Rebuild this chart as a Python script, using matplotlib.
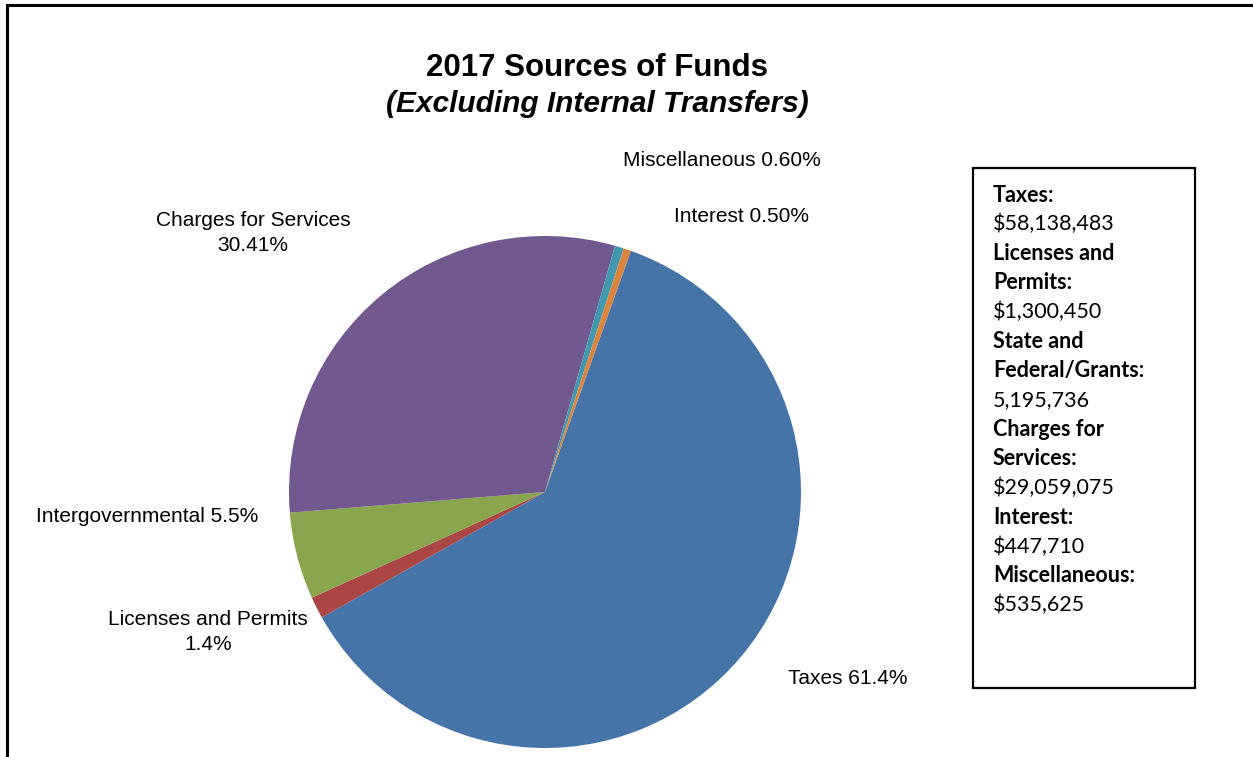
import matplotlib.pyplot as plt
from matplotlib.patches import Rectangle
from matplotlib.lines import Line2D

W, H = 1253, 757

# data (dollars), pie order clockwise starting from Taxes
categories = ["Taxes", "Licenses and Permits", "Intergovernmental",
              "Charges for Services", "Miscellaneous", "Interest"]
amounts = [58138483, 1300450, 5195736, 29059075, 535625, 447710]
slice_labels = ["Taxes 61.4%", "Licenses and Permits\n1.4%", "Intergovernmental 5.5%",
                "Charges for Services\n30.41%", "Miscellaneous 0.60%", "Interest 0.50%"]
colors = ["#4674a9", "#aa4643", "#89a54e", "#71588f", "#4198af", "#db843d"]

box_lines = [("Taxes:", True), ("$58,138,483", False),
             ("Licenses and", True), ("Permits:", True), ("$1,300,450", False),
             ("State and", True), ("Federal/Grants:", True), ("5,195,736", False),
             ("Charges for", True), ("Services:", True), ("$29,059,075", False),
             ("Interest:", True), ("$447,710", False),
             ("Miscellaneous:", True), ("$535,625", False)]

fig = plt.figure(figsize=(W / 100, H / 100), dpi=100)

def fx(px):
    return px / W

def fy(py):
    return 1 - py / H

# outer frame (left and top edges visible)
fig.add_artist(Line2D([fx(7), fx(7)], [fy(5), 0], color="black", lw=2.2))
fig.add_artist(Line2D([fx(7), 1], [fy(5), fy(5)], color="black", lw=2.2))

# pie
cx, cy, r = 545, 492, 256
ax = fig.add_axes([fx(cx - r), fy(cy + r), 2 * r / W, 2 * r / H])
ax.pie(amounts, colors=colors, startangle=70.4, counterclock=False, radius=1,
       wedgeprops=dict(linewidth=0))
ax.set_xlim(-1, 1)
ax.set_ylim(-1, 1)
ax.set_aspect("equal")
ax.axis("off")

# title
fig.text(fx(597), fy(68), "2017 Sources of Funds", ha="center", va="center",
         fontsize=22.5, fontweight="bold", family="Liberation Sans")
fig.text(fx(597), fy(104), "(Excluding Internal Transfers)", ha="center", va="center",
         fontsize=21.5, fontweight="bold", style="italic", family="Liberation Sans")

# slice labels
label_pos = [(848, 678), (208, 632), (147, 517), (253, 233), (722, 160), (742, 216)]
for text, (px, py) in zip(slice_labels, label_pos):
    fig.text(fx(px), fy(py), text, ha="center", va="center", fontsize=15,
             family="Liberation Sans", linespacing=1.35)

# value box
fig.add_artist(Rectangle((fx(973), fy(688)), (1195 - 973) / W, (688 - 168) / H,
                         fill=False, edgecolor="black", lw=1.6))
for i, (text, bold) in enumerate(box_lines):
    fig.text(fx(993), fy(195 + i * 29.3), text, ha="left", va="center",
             fontsize=15.5, family="Lato", fontweight="bold" if bold else "normal")

plt.savefig("out.png", dpi=100)
